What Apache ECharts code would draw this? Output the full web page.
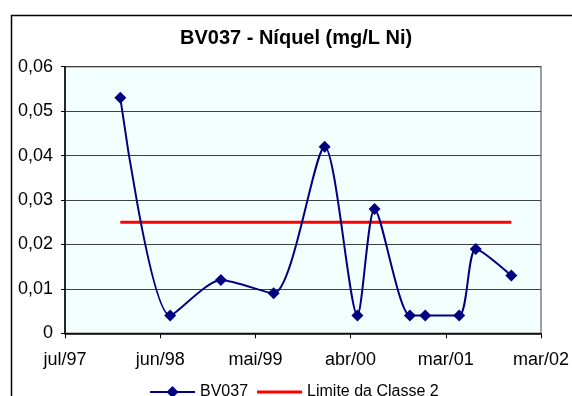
<!DOCTYPE html>
<html>
<head>
<meta charset="utf-8">
<script src="https://cdn.jsdelivr.net/npm/echarts@6/dist/echarts.min.js"></script>
<style>
html,body{margin:0;padding:0;background:#fff;}
#c{width:572px;height:396px;}
</style>
</head>
<body>
<div id="c"></div>
<script>
// ---- data ----
const sampleDates = ['1998-01-25','1998-07-19','1999-01-13','1999-07-17','2000-01-12','2000-05-06',
                     '2000-07-05','2000-11-06','2000-12-30','2001-04-28','2001-06-25','2001-10-28'];
const niquelValues = [0.053,0.004,0.012,0.009,0.042,0.004,0.028,0.004,0.004,0.004,0.019,0.013];
const limitDates = ['1998-01-25','2001-10-28'];
const limitValues = [0.025,0.025];
const xTickLabels = ['jul/97','jun/98','mai/99','abr/00','mar/01','mar/02'];
const axisStartDate = '1997-07-15';
const tickIntervalDays = 334;
const yTicks = [0,0.01,0.02,0.03,0.04,0.05,0.06];

function toDays(s){
  const p = s.split('-').map(Number);
  const q = axisStartDate.split('-').map(Number);
  return (Date.UTC(p[0],p[1]-1,p[2]) - Date.UTC(q[0],q[1]-1,q[2]))/86400000;
}
const seriesData = sampleDates.map((d,i)=>[toDays(d), niquelValues[i]]);
const limitData = limitDates.map((d,i)=>[toDays(d), limitValues[i]]);

const FONT = '"Liberation Sans", Arial, sans-serif';
const ICON_LINE_DIAMOND = 'path://M0,0 M45,14 M0,6 L45,6 L45,8 L0,8 Z M22.5,1 L28.5,7 L22.5,13 L16.5,7 Z';
const ICON_LINE = 'path://M0,0 M45,14 M0,5.5 L45,5.5 L45,8.5 L0,8.5 Z';

const chart = echarts.init(document.getElementById('c'), null, {renderer:'canvas'});
chart.setOption({
  animation:false,
  backgroundColor:'#ffffff',
  title:{
    text:'BV037 - Níquel (mg/L Ni)',
    left:175, top:23,
    textStyle:{fontFamily:FONT,fontSize:20,fontWeight:'bold',color:'#000'}
  },
  graphic:[{
    type:'rect', silent:true, z:-1,
    shape:{x:11.5,y:15.5,width:620,height:420},
    style:{fill:null,stroke:'#000',lineWidth:1.5}
  }],
  legend:{
    left:145, top:379,
    itemWidth:45, itemHeight:14, itemGap:9,
    textStyle:{fontFamily:FONT,fontSize:16,color:'#000'},
    data:[
      {name:'BV037', icon:ICON_LINE_DIAMOND},
      {name:'Limite da Classe 2', icon:ICON_LINE}
    ]
  },
  grid:{
    left:65, top:66.7, right:30.7, bottom:62.7,
    show:true, backgroundColor:'#F3FFFF', borderColor:'#808080', borderWidth:1.5
  },
  xAxis:{
    type:'value',
    min:0, max:tickIntervalDays*(xTickLabels.length-1), interval:tickIntervalDays,
    axisLine:{show:true,lineStyle:{color:'#000',width:1.5}},
    axisTick:{show:true,length:5,lineStyle:{color:'#000'}},
    splitLine:{show:false},
    axisLabel:{
      margin:18, fontFamily:FONT, fontSize:18, color:'#000',
      formatter:function(v){ return xTickLabels[Math.round(v/tickIntervalDays)] || ''; }
    }
  },
  yAxis:{
    type:'value',
    min:yTicks[0], max:yTicks[yTicks.length-1], interval:0.01,
    axisLine:{show:true,lineStyle:{color:'#000',width:1.5}},
    axisTick:{show:true,length:4,lineStyle:{color:'#000'}},
    splitLine:{show:true,lineStyle:{color:'#404040',width:1}},
    axisLabel:{
      margin:12, fontFamily:FONT, fontSize:18, color:'#000',
      formatter:function(v){ return v===0 ? '0' : v.toFixed(2).replace('.',','); }
    }
  },
  series:[
    {
      name:'BV037', type:'line', data:seriesData,
      smooth:0.25,
      symbol:'diamond', symbolSize:12,
      lineStyle:{color:'#000080',width:2},
      itemStyle:{color:'#000080'},
      z:3
    },
    {
      name:'Limite da Classe 2', type:'line', data:limitData,
      symbol:'none', showSymbol:false,
      lineStyle:{color:'#FF0000',width:3},
      itemStyle:{color:'#FF0000'},
      z:2
    }
  ]
});
</script>
</body>
</html>
